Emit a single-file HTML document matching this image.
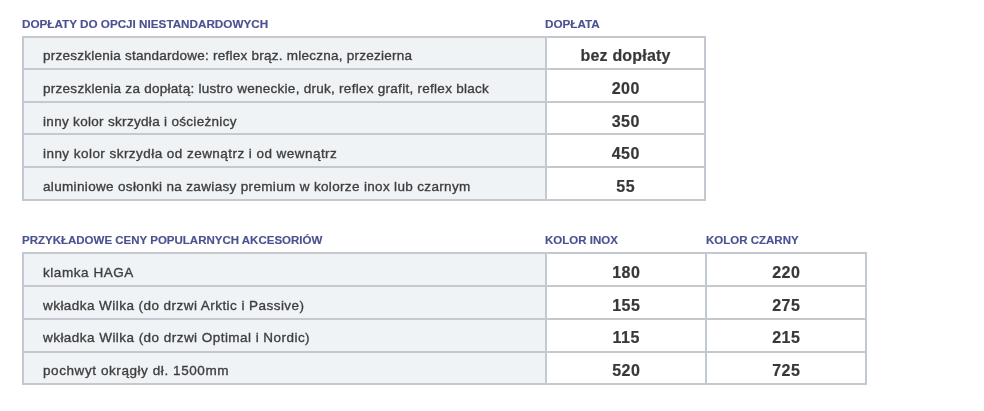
<!DOCTYPE html>
<html><head><meta charset="utf-8">
<style>
html,body{margin:0;padding:0;background:#fff;}
body{width:984px;height:411px;position:relative;overflow:hidden;font-family:"Liberation Sans",sans-serif;-webkit-font-smoothing:antialiased;}
.t{will-change:transform;}
</style></head><body>
<div style="position:absolute;left:22px;top:36px;width:523px;height:163px;background:#f0f3f6"></div>
<div style="position:absolute;left:22px;top:36px;width:684px;height:2px;background:#c5c9cd"></div>
<div style="position:absolute;left:22px;top:68px;width:684px;height:2px;background:#c5c9cd"></div>
<div style="position:absolute;left:22px;top:101px;width:684px;height:2px;background:#c5c9cd"></div>
<div style="position:absolute;left:22px;top:133px;width:684px;height:2px;background:#c5c9cd"></div>
<div style="position:absolute;left:22px;top:166px;width:684px;height:2px;background:#c5c9cd"></div>
<div style="position:absolute;left:22px;top:199px;width:684px;height:2px;background:#c5c9cd"></div>
<div style="position:absolute;left:22px;top:36px;width:2px;height:165px;background:#c3c9d1"></div>
<div style="position:absolute;left:545px;top:36px;width:2px;height:165px;background:#c3c9d1"></div>
<div style="position:absolute;left:704px;top:36px;width:2px;height:165px;background:#c3c9d1"></div>
<div style="position:absolute;left:22px;top:252px;width:523px;height:131px;background:#f0f3f6"></div>
<div style="position:absolute;left:22px;top:252px;width:845px;height:2px;background:#c5c9cd"></div>
<div style="position:absolute;left:22px;top:285px;width:845px;height:2px;background:#c5c9cd"></div>
<div style="position:absolute;left:22px;top:318px;width:845px;height:2px;background:#c5c9cd"></div>
<div style="position:absolute;left:22px;top:351px;width:845px;height:2px;background:#c5c9cd"></div>
<div style="position:absolute;left:22px;top:383px;width:845px;height:2px;background:#c5c9cd"></div>
<div style="position:absolute;left:22px;top:252px;width:2px;height:133px;background:#c3c9d1"></div>
<div style="position:absolute;left:545px;top:252px;width:2px;height:133px;background:#c3c9d1"></div>
<div style="position:absolute;left:705px;top:252px;width:2px;height:133px;background:#c3c9d1"></div>
<div style="position:absolute;left:865px;top:252px;width:2px;height:133px;background:#c3c9d1"></div>
<div class="t" style="position:absolute;left:22px;top:23.95px;line-height:0;height:0;font-size:11.7px;font-weight:bold;color:#4a5190;white-space:nowrap;-webkit-text-stroke:0.15px #4a5190">DOPŁATY DO OPCJI NIESTANDARDOWYCH</div>
<div class="t" style="position:absolute;left:545px;top:23.95px;line-height:0;height:0;font-size:11.7px;font-weight:bold;color:#4a5190;white-space:nowrap;-webkit-text-stroke:0.15px #4a5190">DOPŁATA</div>
<div class="t" style="position:absolute;left:22px;top:240.02px;line-height:0;height:0;font-size:11.5px;font-weight:bold;color:#4a5190;white-space:nowrap;-webkit-text-stroke:0.15px #4a5190">PRZYKŁADOWE CENY POPULARNYCH AKCESORIÓW</div>
<div class="t" style="position:absolute;left:545px;top:240.02px;line-height:0;height:0;font-size:11.5px;font-weight:bold;color:#4a5190;white-space:nowrap;-webkit-text-stroke:0.15px #4a5190">KOLOR INOX</div>
<div class="t" style="position:absolute;left:706px;top:240.02px;line-height:0;height:0;font-size:11.5px;font-weight:bold;color:#4a5190;white-space:nowrap;-webkit-text-stroke:0.15px #4a5190">KOLOR CZARNY</div>
<div class="t" style="position:absolute;left:42.8px;top:55.72px;line-height:0;height:0;font-size:13.5px;font-weight:normal;color:#3e3e3e;white-space:nowrap;letter-spacing:0.247px;-webkit-text-stroke:0.35px #3e3e3e">przeszklenia standardowe: reflex brąz. mleczna, przezierna</div>
<div class="t" style="position:absolute;left:547px;width:157px;top:55.76px;line-height:0;height:0;font-size:16px;font-weight:bold;color:#383838;text-align:center;white-space:nowrap;letter-spacing:0.2px;text-indent:0.2px;-webkit-text-stroke:0.2px #383838">bez dopłaty</div>
<div class="t" style="position:absolute;left:42.8px;top:89.02px;line-height:0;height:0;font-size:13.5px;font-weight:normal;color:#3e3e3e;white-space:nowrap;letter-spacing:0.275px;-webkit-text-stroke:0.35px #3e3e3e">przeszklenia za dopłatą: lustro weneckie, druk, reflex grafit, reflex black</div>
<div class="t" style="position:absolute;left:547px;width:157px;top:89.06px;line-height:0;height:0;font-size:16px;font-weight:bold;color:#383838;text-align:center;white-space:nowrap;letter-spacing:0.5px;text-indent:0.5px;-webkit-text-stroke:0.2px #383838">200</div>
<div class="t" style="position:absolute;left:42.8px;top:121.52px;line-height:0;height:0;font-size:13.5px;font-weight:normal;color:#3e3e3e;white-space:nowrap;letter-spacing:0.312px;-webkit-text-stroke:0.35px #3e3e3e">inny kolor skrzydła i ościeżnicy</div>
<div class="t" style="position:absolute;left:547px;width:157px;top:121.56px;line-height:0;height:0;font-size:16px;font-weight:bold;color:#383838;text-align:center;white-space:nowrap;letter-spacing:0.5px;text-indent:0.5px;-webkit-text-stroke:0.2px #383838">350</div>
<div class="t" style="position:absolute;left:42.8px;top:154.22px;line-height:0;height:0;font-size:13.5px;font-weight:normal;color:#3e3e3e;white-space:nowrap;letter-spacing:0.453px;-webkit-text-stroke:0.35px #3e3e3e">inny kolor skrzydła od zewnątrz i od wewnątrz</div>
<div class="t" style="position:absolute;left:547px;width:157px;top:154.26px;line-height:0;height:0;font-size:16px;font-weight:bold;color:#383838;text-align:center;white-space:nowrap;letter-spacing:0.5px;text-indent:0.5px;-webkit-text-stroke:0.2px #383838">450</div>
<div class="t" style="position:absolute;left:42.8px;top:187.12px;line-height:0;height:0;font-size:13.5px;font-weight:normal;color:#3e3e3e;white-space:nowrap;letter-spacing:0.339px;-webkit-text-stroke:0.35px #3e3e3e">aluminiowe osłonki na zawiasy premium w kolorze inox lub czarnym</div>
<div class="t" style="position:absolute;left:547px;width:157px;top:187.16px;line-height:0;height:0;font-size:16px;font-weight:bold;color:#383838;text-align:center;white-space:nowrap;letter-spacing:0.5px;text-indent:0.5px;-webkit-text-stroke:0.2px #383838">55</div>
<div class="t" style="position:absolute;left:42.8px;top:273.22px;line-height:0;height:0;font-size:13.5px;font-weight:normal;color:#3e3e3e;white-space:nowrap;letter-spacing:0.552px;-webkit-text-stroke:0.35px #3e3e3e">klamka HAGA</div>
<div class="t" style="position:absolute;left:547px;width:158px;top:273.26px;line-height:0;height:0;font-size:16px;font-weight:bold;color:#383838;text-align:center;white-space:nowrap;letter-spacing:0.5px;text-indent:0.5px;-webkit-text-stroke:0.2px #383838">180</div>
<div class="t" style="position:absolute;left:707px;width:158px;top:273.26px;line-height:0;height:0;font-size:16px;font-weight:bold;color:#383838;text-align:center;white-space:nowrap;letter-spacing:0.5px;text-indent:0.5px;-webkit-text-stroke:0.2px #383838">220</div>
<div class="t" style="position:absolute;left:42.8px;top:305.72px;line-height:0;height:0;font-size:13.5px;font-weight:normal;color:#3e3e3e;white-space:nowrap;letter-spacing:0.448px;-webkit-text-stroke:0.35px #3e3e3e">wkładka Wilka (do drzwi Arktic i Passive)</div>
<div class="t" style="position:absolute;left:547px;width:158px;top:305.76px;line-height:0;height:0;font-size:16px;font-weight:bold;color:#383838;text-align:center;white-space:nowrap;letter-spacing:0.5px;text-indent:0.5px;-webkit-text-stroke:0.2px #383838">155</div>
<div class="t" style="position:absolute;left:707px;width:158px;top:305.76px;line-height:0;height:0;font-size:16px;font-weight:bold;color:#383838;text-align:center;white-space:nowrap;letter-spacing:0.5px;text-indent:0.5px;-webkit-text-stroke:0.2px #383838">275</div>
<div class="t" style="position:absolute;left:42.8px;top:338.42px;line-height:0;height:0;font-size:13.5px;font-weight:normal;color:#3e3e3e;white-space:nowrap;letter-spacing:0.457px;-webkit-text-stroke:0.35px #3e3e3e">wkładka Wilka (do drzwi Optimal i Nordic)</div>
<div class="t" style="position:absolute;left:547px;width:158px;top:338.46px;line-height:0;height:0;font-size:16px;font-weight:bold;color:#383838;text-align:center;white-space:nowrap;letter-spacing:0.5px;text-indent:0.5px;-webkit-text-stroke:0.2px #383838">115</div>
<div class="t" style="position:absolute;left:707px;width:158px;top:338.46px;line-height:0;height:0;font-size:16px;font-weight:bold;color:#383838;text-align:center;white-space:nowrap;letter-spacing:0.5px;text-indent:0.5px;-webkit-text-stroke:0.2px #383838">215</div>
<div class="t" style="position:absolute;left:42.8px;top:371.22px;line-height:0;height:0;font-size:13.5px;font-weight:normal;color:#3e3e3e;white-space:nowrap;letter-spacing:0.577px;-webkit-text-stroke:0.35px #3e3e3e">pochwyt okrągły dł. 1500mm</div>
<div class="t" style="position:absolute;left:547px;width:158px;top:371.26px;line-height:0;height:0;font-size:16px;font-weight:bold;color:#383838;text-align:center;white-space:nowrap;letter-spacing:0.5px;text-indent:0.5px;-webkit-text-stroke:0.2px #383838">520</div>
<div class="t" style="position:absolute;left:707px;width:158px;top:371.26px;line-height:0;height:0;font-size:16px;font-weight:bold;color:#383838;text-align:center;white-space:nowrap;letter-spacing:0.5px;text-indent:0.5px;-webkit-text-stroke:0.2px #383838">725</div>
</body></html>
